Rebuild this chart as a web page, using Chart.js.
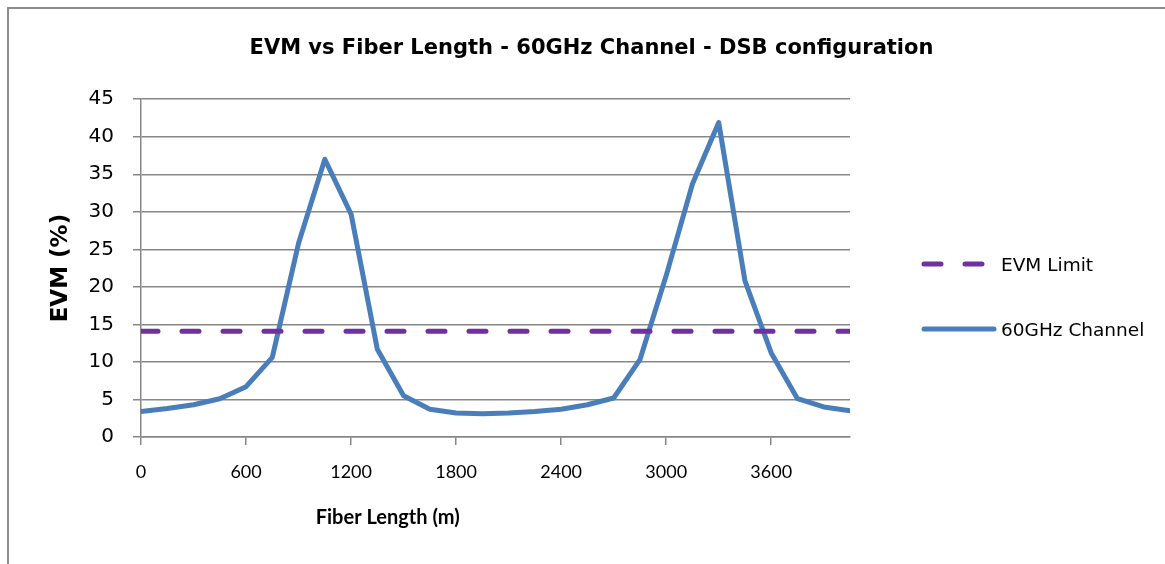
<!DOCTYPE html>
<html>
<head>
<meta charset="utf-8">
<script src="https://cdn.jsdelivr.net/npm/chart.js@4.4.1/dist/chart.umd.min.js"></script>
<style>
  body { margin: 0; background: #fff; }
  #wrap { position: relative; width: 1165px; height: 564px; overflow: hidden; }
  #frame { position: absolute; left: 7px; top: 7px; width: 1200px; height: 600px;
           border: 2px solid #8c8c8c; pointer-events: none; }
  canvas { position: absolute; left: 0; top: 0; }
  #legend { position: absolute; left: 921px; top: 249px; font-family: 'DejaVu Sans'; font-size: 18.5px; color: #000; }
  #legend .item { display: flex; align-items: center; height: 30px; margin-bottom: 35px; }
  #legend svg { margin-right: 4px; }
</style>
</head>
<body>
<div id="wrap">
  <canvas id="chart" width="1165" height="564"></canvas>
  <div id="legend"></div>
  <div id="frame"></div>
</div>
<script>
// fiber length in metres
var lengths = [0, 150, 300, 450, 600, 750, 900, 1050, 1200, 1350, 1500, 1650, 1800, 1950,
               2100, 2250, 2400, 2550, 2700, 2850, 3000, 3150, 3300, 3450, 3600, 3750, 3900, 4050];
// EVM (%) of the 60GHz channel
var evm60 = [3.4, 3.8, 4.3, 5.1, 6.7, 10.6, 25.8, 37.0, 29.7, 11.7, 5.5, 3.7, 3.2, 3.1,
             3.2, 3.4, 3.7, 4.3, 5.2, 10.3, 21.5, 33.7, 41.9, 20.8, 11.2, 5.1, 4.0, 3.5];
// EVM limit (%)
var evmLimit = [14.1, 14.1, 14.1, 14.1, 14.1, 14.1, 14.1, 14.1, 14.1, 14.1, 14.1, 14.1, 14.1, 14.1,
                14.1, 14.1, 14.1, 14.1, 14.1, 14.1, 14.1, 14.1, 14.1, 14.1, 14.1, 14.1, 14.1, 14.1];
// labelled ticks on the x axis
var xTicks = [0, 600, 1200, 1800, 2400, 3000, 3600];

var axisGray = '#878787';

function toPoints(xs, ys) {
    var pts = [];
    for (var i = 0; i < xs.length; i++) {
        pts.push({ x: xs[i], y: ys[i] });
    }
    return pts;
}

// x axis title sits left of centre in the original, so it is drawn here
var xTitle = {
    id: 'xTitle',
    afterDraw: function(chart) {
        var a = chart.chartArea;
        var c = chart.ctx;
        c.save();
        c.font = 'bold 20px Lato';
        c.fillStyle = '#000';
        c.textAlign = 'center';
        c.textBaseline = 'middle';
        c.fillText('Fiber Length (m)', a.left + (a.right - a.left) * 0.348, a.bottom + 81);
        c.restore();
    }
};

var ctx = document.getElementById('chart').getContext('2d');
var chart = new Chart(ctx, {
    type: 'line',
    data: {
        datasets: [{
            label: 'EVM Limit',
            data: toPoints(lengths, evmLimit),
            borderColor: '#7030a0',
            backgroundColor: '#7030a0',
            borderWidth: 5,
            borderDash: [17, 24],
            borderCapStyle: 'round',
            pointRadius: 0,
            tension: 0
        }, {
            label: '60GHz Channel',
            data: toPoints(lengths, evm60),
            borderColor: '#4a7ebb',
            backgroundColor: '#4a7ebb',
            borderWidth: 5,
            borderCapStyle: 'round',
            borderJoinStyle: 'round',
            pointRadius: 0,
            tension: 0
        }]
    },
    plugins: [xTitle],
    options: {
        responsive: false,
        animation: false,
        layout: { padding: { left: 18, right: 0, top: 0, bottom: 0 } },
        plugins: {
            title: {
                display: true,
                text: 'EVM vs Fiber Length - 60GHz Channel - DSB configuration',
                color: '#000',
                font: { family: 'DejaVu Sans', size: 21, weight: 'bold' },
                padding: { top: 36, bottom: 38 }
            },
            legend: { display: false },
            tooltip: { enabled: false }
        },
        scales: {
            x: {
                type: 'linear',
                min: 0,
                max: 4050,
                afterFit: function(scale) { scale.height = 127; },
                afterBuildTicks: function(scale) {
                    scale.ticks = xTicks.map(function(v) { return { value: v }; });
                },
                ticks: {
                    color: '#000',
                    font: { family: 'Lato', size: 18 },
                    padding: 16,
                    callback: function(v) { return String(v); }
                },
                grid: { drawOnChartArea: false, color: axisGray, lineWidth: 1.5, tickLength: 8 },
                border: { color: axisGray, width: 1.5 }
            },
            y: {
                min: 0,
                max: 45,
                afterFit: function(scale) { scale.width = 123; },
                ticks: {
                    stepSize: 5,
                    color: '#000',
                    font: { family: 'DejaVu Sans', size: 20 },
                    padding: 19
                },
                grid: { color: axisGray, lineWidth: 1.5, tickLength: 8 },
                border: { color: axisGray, width: 1.5 },
                title: {
                    display: true,
                    text: 'EVM (%)',
                    color: '#000',
                    font: { family: 'DejaVu Sans', size: 23, weight: 'bold' },
                    padding: { top: 29, bottom: 4 }
                }
            },
            // empty axis that keeps the space on the right for the legend
            legendSpace: {
                type: 'linear',
                position: 'right',
                afterFit: function(scale) { scale.width = 315; },
                ticks: { display: false },
                grid: { display: false },
                border: { display: false }
            }
        }
    }
});

// html legend built from the datasets
var legendBox = document.getElementById('legend');
chart.data.datasets.forEach(function(ds) {
    var dash = ds.borderDash ? ds.borderDash.join(' ') : 'none';
    var item = document.createElement('div');
    item.className = 'item';
    item.innerHTML = '<svg width="76" height="10"><line x1="3" y1="5" x2="73" y2="5" stroke="' +
        ds.borderColor + '" stroke-width="' + ds.borderWidth + '" stroke-linecap="round" stroke-dasharray="' +
        dash + '"/></svg><span>' + ds.label + '</span>';
    legendBox.appendChild(item);
});
</script>
</body>
</html>
